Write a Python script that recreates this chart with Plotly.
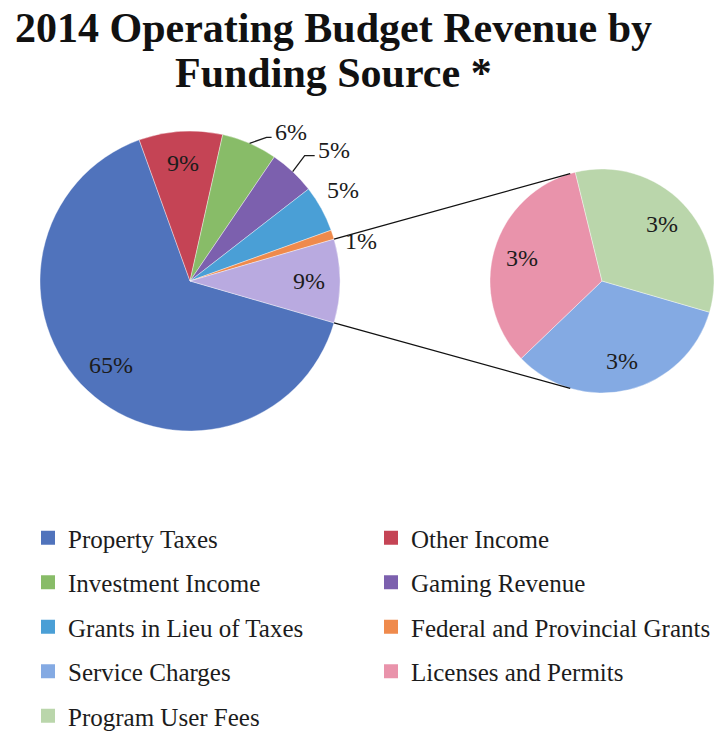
import math
import plotly.graph_objects as go

# Revenue shares (percent of total operating budget revenue)
main_labels = ["Property Taxes", "Other Income", "Investment Income", "Gaming Revenue",
               "Grants in Lieu of Taxes", "Federal and Provincial Grants"]
main_values = [65, 9, 6, 5, 5, 1]
main_colors = ["#5073BC", "#C54455", "#88BC68", "#7C60AE", "#4A9FD6", "#EF8A4C"]

detail_labels = ["Service Charges", "Licenses and Permits", "Program User Fees"]
detail_values = [3, 3, 3]
detail_colors = ["#84AAE3", "#E993AB", "#BAD6AB"]

combined_label = "Other"
combined_color = "#B9AAE0"

title_lines = ["2014 Operating Budget Revenue by", "Funding Source *"]

# ---- layout geometry (pixels) ----
W, H = 716, 732
MAIN_C, MAIN_R = (190, 281), 150
DET_C, DET_R = (602, 281), 112
SERIF = "Liberation Serif, Times New Roman, serif"


def to_paper(x, y):
    return x / W, 1 - y / H


def domain(c, r):
    return dict(x=[(c[0] - r) / W, (c[0] + r) / W],
                y=[1 - (c[1] + r) / H, 1 - (c[1] - r) / H])


def mid_angles(values, rotation):
    """Clock angles (deg, clockwise from 12 o'clock) of slice centres."""
    total = sum(values)
    out, cum = [], 0.0
    for v in values:
        out.append(rotation + 360.0 * (cum + v / 2.0) / total)
        cum += v
    return out


def point_on(c, r, clock_deg):
    a = math.radians(clock_deg)
    return c[0] + r * math.sin(a), c[1] - r * math.cos(a)


pie_values = main_values + [sum(detail_values)]
pie_labels = main_labels + [combined_label]
pie_colors = main_colors + [combined_color]
total = sum(pie_values)
# the combined slice is centred on 3 o'clock
rotation = 90 + 360.0 * pie_values[-1] / total / 2.0

fig = go.Figure()

fig.add_trace(go.Pie(
    labels=pie_labels, values=pie_values, sort=False, direction="clockwise",
    rotation=rotation, domain=domain(MAIN_C, MAIN_R),
    marker=dict(colors=pie_colors, line=dict(color="rgba(255,255,255,0.55)", width=0.7)),
    textinfo="none", hoverinfo="label+percent", showlegend=False,
))

fig.add_trace(go.Pie(
    labels=detail_labels, values=detail_values, sort=False, direction="clockwise",
    rotation=rotation, domain=domain(DET_C, DET_R),
    marker=dict(colors=detail_colors, line=dict(color="rgba(255,255,255,0.55)", width=0.7)),
    textinfo="none", hoverinfo="label+value", showlegend=False,
))

# legend entries (two columns)
left_col = [0, 2, 4, 6, 8]
all_labels = main_labels + detail_labels
all_colors = main_colors + detail_colors
for i, (lab, col) in enumerate(zip(all_labels, all_colors)):
    fig.add_trace(go.Scatter(
        x=[None], y=[None], mode="markers", name=lab, legendgroup=lab,
        marker=dict(symbol="square", size=14, color=col),
        legend="legend" if i in left_col else "legend2",
        hoverinfo="skip", showlegend=True,
    ))

annotations = []
shapes = []
label_font = dict(family=SERIF, size=24, color="#1c1c1c")
INK = "#1c1c1c"


def label(x, y, text, xanchor="center"):
    xp, yp = to_paper(x, y)
    return dict(x=xp, y=yp, xref="paper", yref="paper", text=text, font=label_font,
                showarrow=False, xanchor=xanchor, yanchor="middle")


# main pie labels
#   ("in", radius factor)            -> label inside the slice
#   ("out", dx, dy)                  -> label beside the slice edge
#   ("lead", ex, ey, run, text_dy)   -> bent leader line, then the label
main_label_style = [
    ("in", 0.77),
    ("in", 0.79),
    ("lead", 17, -6, 5, -5),
    ("lead", 12, -16, 10, -6),
    ("out", 22, -19),
    ("out", 28, 6),
    ("in", 0.79),
]
for v, ang, style in zip(pie_values, mid_angles(pie_values, rotation), main_label_style):
    text = f"{v}%"
    if style[0] == "in":
        px, py = point_on(MAIN_C, MAIN_R * style[1], ang)
        annotations.append(label(px, py, text))
    elif style[0] == "out":
        px, py = point_on(MAIN_C, MAIN_R, ang)
        annotations.append(label(px + style[1], py + style[2], text))
    else:
        _, ex, ey, run, tdy = style
        px, py = point_on(MAIN_C, MAIN_R, ang)
        pts = [(px, py), (px + ex, py + ey), (px + ex + run, py + ey)]
        path = "M " + " L ".join(
            "{:.5f},{:.5f}".format(*to_paper(x, y)) for x, y in pts)
        shapes.append(dict(type="path", xref="paper", yref="paper", path=path,
                           line=dict(color=INK, width=1.3)))
        annotations.append(label(pts[-1][0] + 1, pts[-1][1] + tdy, text, xanchor="left"))

for v, ang in zip(detail_values, mid_angles(detail_values, rotation)):
    px, py = point_on(DET_C, DET_R * 0.74, ang)
    annotations.append(label(px, py, f"{v}%"))

# title lines
for txt, cy in zip(title_lines, (27.5, 73.5)):
    xp, yp = to_paper(333, cy)
    annotations.append(dict(x=xp, y=yp, xref="paper", yref="paper", text=f"<b>{txt}</b>",
                            font=dict(family=SERIF, size=42, color="#111111"),
                            showarrow=False, xanchor="center", yanchor="middle"))

# connector lines from the combined slice to the detail pie
half = 360.0 * pie_values[-1] / total / 2.0
for sgn in (-1, 1):
    x0, y0 = point_on(MAIN_C, MAIN_R, 90 + sgn * half)
    x1, y1 = point_on(DET_C, DET_R, 90 + sgn * 106.5)
    a0 = to_paper(x0, y0)
    a1 = to_paper(x1, y1)
    shapes.append(dict(type="line", xref="paper", yref="paper",
                       x0=a0[0], y0=a0[1], x1=a1[0], y1=a1[1],
                       line=dict(color="#111111", width=1.3)))

legend_common = dict(
    orientation="v", xanchor="left", yanchor="top", tracegroupgap=9,
    bgcolor="rgba(0,0,0,0)", font=dict(family=SERIF, size=25, color="#1c1c1c"),
    itemwidth=30, itemclick=False, itemdoubleclick=False,
)

fig.update_layout(
    width=W, height=H,
    margin=dict(l=0, r=0, t=0, b=0, autoexpand=False),
    paper_bgcolor="white", plot_bgcolor="white",
    xaxis=dict(visible=False), yaxis=dict(visible=False),
    annotations=annotations, shapes=shapes,
    legend=dict(x=28 / W, y=1 - 515 / H, **legend_common),
    legend2=dict(x=371 / W, y=1 - 515 / H, **legend_common),
)

fig.write_html("out.html")
